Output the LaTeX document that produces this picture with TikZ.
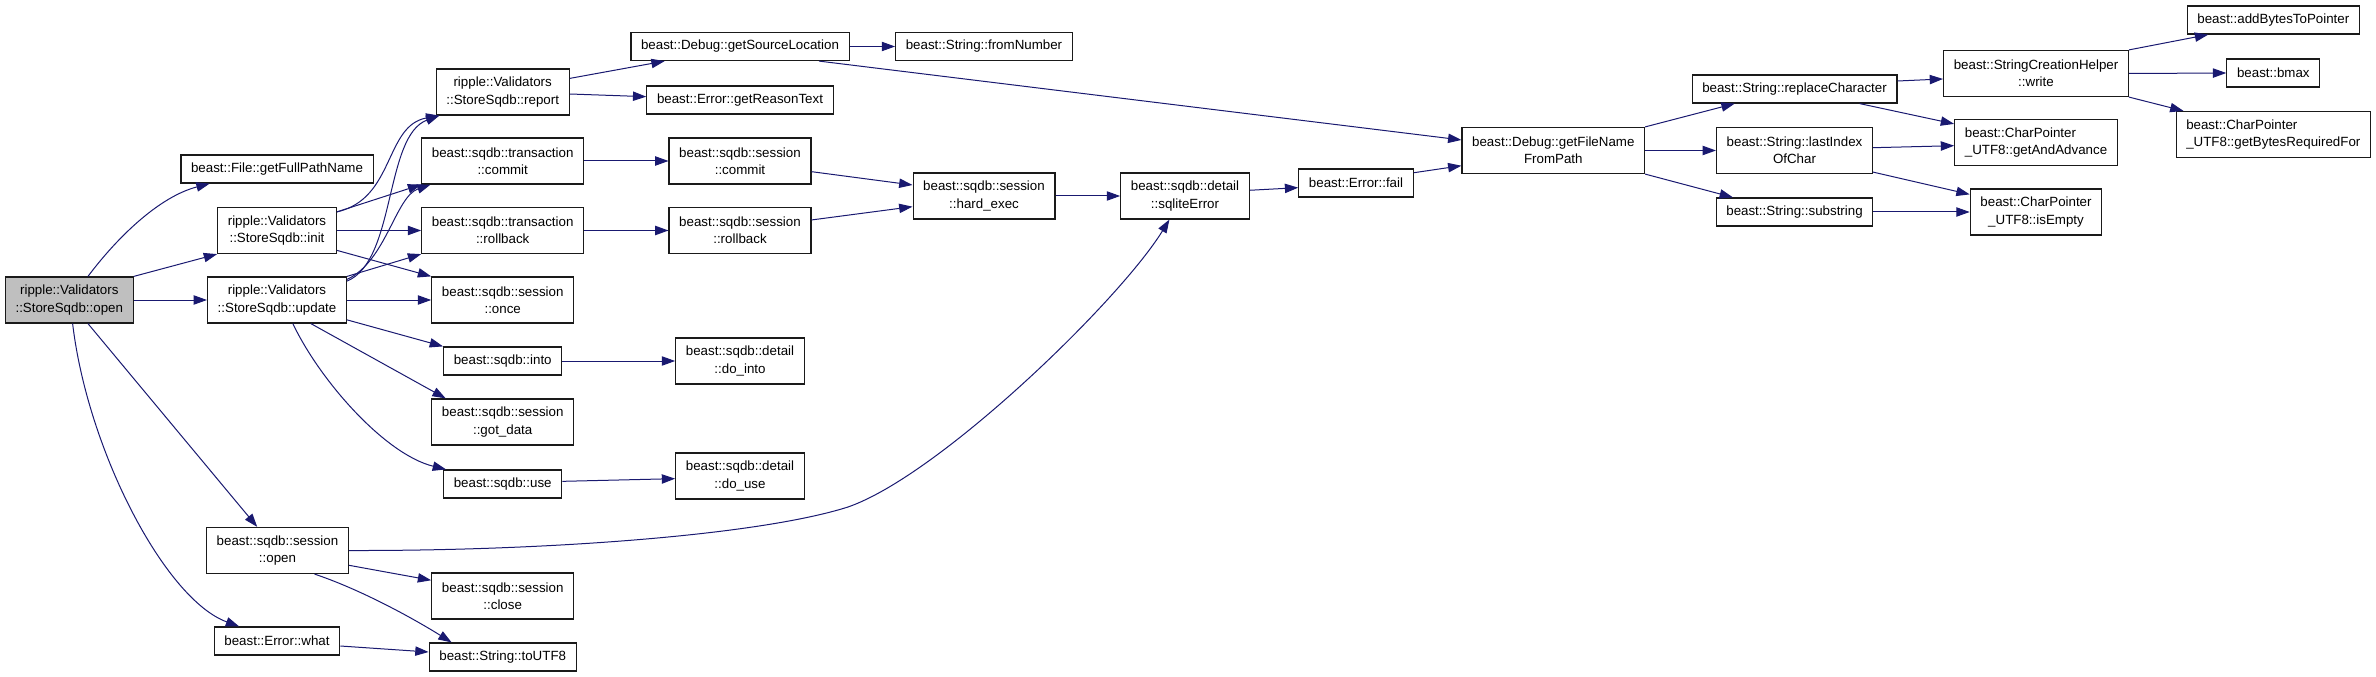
\documentclass[tikz,border=0pt]{standalone}
\usepackage{fontspec}
\setmainfont{Liberation Sans}
\usepackage{xcolor}
\usepackage{tikz}
\usetikzlibrary{arrows.meta}
\definecolor{callblue}{HTML}{191970}
\definecolor{rootgrey}{HTML}{BFBFBF}
\definecolor{boxline}{HTML}{1A1A1A}

\begin{document}
\begin{tikzpicture}[
  x=0.75pt, y=-0.75pt,
  font=\fontsize{10}{13}\selectfont,
  fn/.style={draw=boxline, line width=0.9pt, fill=white, align=center,
             inner xsep=7.6pt, inner ysep=0pt, minimum height=21pt},
  two/.style={fn, minimum height=34.5pt},
  lft/.style={two, align=left},
  root/.style={two, fill=rootgrey},
  arr/.style={-{Triangle[length=10pt, width=7pt]}, line width=0.75pt, draw=callblue},
]
\useasboundingbox (0,0) rectangle (2376,677);

\node[root] (open) at (69.3,300) {ripple::Validators\\::StoreSqdb::open};

\node[fn]  (fullpath) at (277,169)   {beast::File::getFullPathName};
\node[two] (init)     at (277,230.5) {ripple::Validators\\::StoreSqdb::init};
\node[two] (update)   at (277,300)   {ripple::Validators\\::StoreSqdb::update};
\node[two] (sopen)    at (277.5,550.5) {beast::sqdb::session\\::open};
\node[fn]  (what)     at (277,641)   {beast::Error::what};

\node[two] (report)    at (502.7,92)    {ripple::Validators\\::StoreSqdb::report};
\node[two] (tcommit)   at (502.7,161)   {beast::sqdb::transaction\\::commit};
\node[two] (trollback) at (502.7,230.5) {beast::sqdb::transaction\\::rollback};
\node[two] (once)      at (502.7,300)   {beast::sqdb::session\\::once};
\node[fn]  (into)      at (502.7,361)   {beast::sqdb::into};
\node[two] (gotdata)   at (502.7,422)   {beast::sqdb::session\\::got\_data};
\node[fn]  (use)       at (502.7,484)   {beast::sqdb::use};
\node[two] (close)     at (502.7,596)   {beast::sqdb::session\\::close};
\node[fn]  (toutf)     at (502.7,657)   {beast::String::toUTF8};

\node[fn]  (srcloc)    at (740,46.5)  {beast::Debug::getSourceLocation};
\node[fn]  (reason)    at (740,100)   {beast::Error::getReasonText};
\node[two] (scommit)   at (740,161)   {beast::sqdb::session\\::commit};
\node[two] (srollback) at (740,230.5) {beast::sqdb::session\\::rollback};
\node[two] (dointo)    at (740,361)   {beast::sqdb::detail\\::do\_into};
\node[two] (douse)     at (740,476)   {beast::sqdb::detail\\::do\_use};

\node[fn]  (fromnum)  at (984,46.5) {beast::String::fromNumber};
\node[two] (hardexec) at (984,196)  {beast::sqdb::session\\::hard\_exec};
\node[two] (sqlerr)   at (1185,196) {beast::sqdb::detail\\::sqliteError};
\node[fn]  (fail)     at (1356,183) {beast::Error::fail};
\node[two] (fnpath)   at (1553.3,150.5) {beast::Debug::getFileName\\FromPath};

\node[fn]  (replchar) at (1794.5,89)    {beast::String::replaceCharacter};
\node[two] (lastidx)  at (1794.5,150.5) {beast::String::lastIndex\\OfChar};
\node[fn]  (substr)   at (1794.5,212)   {beast::String::substring};

\node[two] (schwrite) at (2036,73.5)  {beast::StringCreationHelper\\::write};
\node[lft] (getadv)   at (2036,142.5) {beast::CharPointer\\\_UTF8::getAndAdvance};
\node[two] (isempty)  at (2036,212)   {beast::CharPointer\\\_UTF8::isEmpty};

\node[fn]  (addbytes) at (2273.3,20)    {beast::addBytesToPointer};
\node[fn]  (bmax)     at (2273.3,73)    {beast::bmax};
\node[lft] (bytesreq) at (2273.3,134.5) {beast::CharPointer\\\_UTF8::getBytesRequiredFor};

\draw[arr] ([xshift=14pt]open.north) .. controls +(30,-40) and +(-50,13) .. ([xshift=-50.5pt]fullpath.south);
\draw[arr] (open.north east) -- (init.south west);
\draw[arr] (open.east) -- (update.west);
\draw[arr] ([xshift=14pt]open.south) -- ([xshift=-15.2pt]sopen.north);
\draw[arr] ([xshift=2.5pt]open.south) .. controls +(15,127) and +(-74,-27) .. ([xshift=-28.4pt]what.north);

\draw[arr] ([yshift=-3.75pt]init.north east) .. controls +(58,-13) and +(-55,10) .. ([xshift=2.8pt]report.south west);
\draw[arr] ([yshift=-3.75pt]init.north east) -- (tcommit.south west);
\draw[arr] (init.east) -- (trollback.west);
\draw[arr] ([yshift=2.8pt]init.south east) -- (once.north west);

\draw[arr] ([yshift=-3.5pt]update.north east) .. controls +(49,-20) and +(-55,20) .. ([xshift=2.8pt]report.south west);
\draw[arr] ([yshift=-2.25pt]update.north east) .. controls +(39,-18) and +(-35,12) .. ([xshift=7pt]tcommit.south west);
\draw[arr] (update.north east) -- (trollback.south west);
\draw[arr] (update.east) -- (once.west);
\draw[arr] ([yshift=2.8pt]update.south east) -- (into.north west);
\draw[arr] ([xshift=25.4pt]update.south) -- ([xshift=10.9pt]gotdata.north west);
\draw[arr] ([xshift=11.9pt]update.south) .. controls +(27,57) and +(-61,-15) .. ([xshift=2.25pt]use.north west);

\draw[arr] ([yshift=-7.5pt]report.north east) -- ([xshift=25.8pt]srcloc.south west);
\draw[arr] ([yshift=-1.5pt]report.east) -- ([yshift=2.5pt]reason.west);
\draw[arr] (srcloc.east) -- (fromnum.west);
\draw[arr] ([xshift=-23pt]srcloc.south east) -- ([yshift=7.9pt]fnpath.west);

\draw[arr] (tcommit.east) -- (scommit.west);
\draw[arr] (trollback.east) -- (srollback.west);
\draw[arr] ([yshift=-8pt]scommit.east) -- ([yshift=8.25pt]hardexec.west);
\draw[arr] ([yshift=7.9pt]srollback.east) -- ([yshift=-8pt]hardexec.west);
\draw[arr] (hardexec.east) -- (sqlerr.west);
\draw[arr] ([yshift=4.3pt]sqlerr.east) -- ([yshift=-3.5pt]fail.west);
\draw[arr] ([yshift=7.7pt]fail.east) -- ([yshift=-11.4pt]fnpath.west);

\draw[arr] (into.east) -- (dointo.west);
\draw[arr] ([yshift=2pt]use.east) -- ([yshift=-2pt]douse.west);

\draw[arr] (sopen.east) .. controls (550,551) and (760,535) .. (848,507)
  .. controls (940,475) and (1120,300) .. ([xshift=-11.7pt]sqlerr.south);
\draw[arr] ([yshift=-11.1pt]sopen.east) -- ([yshift=11.8pt]close.west);
\draw[arr] ([xshift=27.8pt]sopen.south) .. controls +(45,15) and +(-40,-25) .. ([xshift=17.25pt]toutf.north west);
\draw[arr] ([yshift=-3.75pt]what.east) -- ([yshift=3.75pt]toutf.west);

\draw[arr] (fnpath.north east) -- ([xshift=32.4pt]replchar.south west);
\draw[arr] (fnpath.east) -- (lastidx.west);
\draw[arr] (fnpath.south east) -- ([xshift=13pt]substr.north west);

\draw[arr] ([yshift=6pt]replchar.east) -- ([yshift=-4.1pt]schwrite.west);
\draw[arr] ([xshift=-28.4pt]replchar.south east) -- ([yshift=-3.75pt]getadv.north west);
\draw[arr] ([yshift=2.1pt]lastidx.east) -- ([yshift=-2.4pt]getadv.west);
\draw[arr] ([yshift=1.5pt]lastidx.south east) -- ([yshift=-4.5pt]isempty.north west);
\draw[arr] (substr.east) -- (isempty.west);

\draw[arr] (schwrite.north east) -- ([xshift=16.2pt]addbytes.south west);
\draw[arr] (schwrite.east) -- (bmax.west);
\draw[arr] (schwrite.south east) -- ([xshift=6pt]bytesreq.north west);
\end{tikzpicture}
\end{document}
